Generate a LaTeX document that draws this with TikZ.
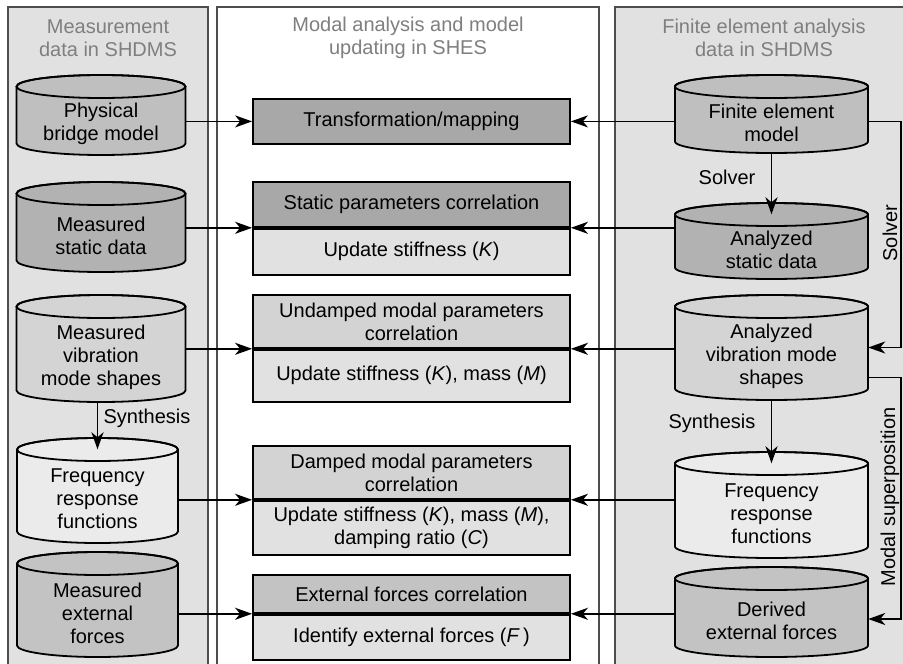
\documentclass[tikz,border=0pt]{standalone}
\usepackage{fontspec}
\setmainfont{Liberation Sans}
\usetikzlibrary{arrows.meta,calc}

\definecolor{panelgray}{HTML}{E1E1E1}
\definecolor{panelline}{HTML}{4D4D4D}
\definecolor{titlegray}{HTML}{7F7F7F}
\definecolor{boxdark}{HTML}{A8A8A8}
\definecolor{boxmid}{HTML}{C3C3C3}
\definecolor{boxsoft}{HTML}{D3D3D3}
\definecolor{boxlight}{HTML}{E1E1E1}
\definecolor{cylA}{HTML}{BFBFBF}
\definecolor{cylB}{HTML}{B2B2B2}
\definecolor{cylC}{HTML}{D4D4D4}
\definecolor{cylD}{HTML}{EBEBEB}
\definecolor{cylE}{HTML}{C3C3C3}

% half height of the cylinder end ellipses
\newcommand\cylry{11.5}

% database cylinder: name, centre x, top y, bottom y, half width, fill, text
\newcommand\dbcyl[7]{%
  \filldraw[cylline, fill=#6] ({#2-#5},{#3+\cylry}) -- ({#2-#5},{#4-\cylry})
    arc[start angle=180, end angle=0, x radius=#5, y radius=\cylry]
    -- ({#2+#5},{#3+\cylry})
    arc[start angle=0, end angle=-180, x radius=#5, y radius=\cylry] -- cycle;
  \draw[cylline] ({#2},{#3+\cylry}) ellipse[x radius=#5, y radius=\cylry];
  \node[inner sep=0pt, minimum width={2*#5*1pt}, minimum height={(#4-#3)*1pt}]
    (#1) at ({#2},{(#3+#4)/2}) {};
  \node[align=center] at ({#2},{(#3+1.5*\cylry+#4)/2}) {#7};
}

\begin{document}
\begin{tikzpicture}[x=1pt, y=-1pt,
  every node/.style={font=\fontsize{20}{23}\selectfont},
  panel/.style={draw=panelline, line width=2pt},
  title/.style={align=center, text=titlegray},
  cylline/.style={draw=black, line width=1.8pt},
  boxst/.style={draw=black, line width=1.8pt, minimum width=317pt,
    inner sep=0pt, align=center, anchor=north},
  arr/.style={draw=black, line width=1.8pt,
    -{Stealth[length=17pt, width=12pt, inset=5pt]}},
  lnk/.style={draw=black, line width=1.8pt}]

\useasboundingbox (0,0) rectangle (903,664);

% the three panels
\draw[panel, fill=panelgray] (8,7) rectangle (208,675);
\draw[panel, fill=white] (217,7) rectangle (599,675);
\draw[panel, fill=panelgray] (615,7) rectangle (915,675);

\node[title] (tl) at (108,38) {Measurement\\data in SHDMS};
\node[title] (tm) at (408,38) {Modal analysis and model\\updating in SHES};
\node[title] (tr) at (764,38) {Finite element analysis\\data in SHDMS};

% measurement data
\dbcyl{m1}{101}{75}{155}{84.5}{cylA}{Physical\\bridge model}
\dbcyl{m2}{101}{182}{272}{84.5}{cylB}{Measured\\static data}
\dbcyl{m3}{101}{295}{402}{84.5}{cylC}{Measured\\vibration\\mode shapes}
\dbcyl{m4}{97.5}{438}{543}{80.5}{cylD}{Frequency\\response\\functions}
\dbcyl{m5}{97.5}{552}{657}{80.5}{cylE}{Measured\\external\\forces}

% finite element data
\dbcyl{r1}{771.5}{75}{153}{96.5}{cylA}{Finite element\\model}
\dbcyl{r2}{771.5}{203}{279}{96.5}{cylB}{Analyzed\\static data}
\dbcyl{r3}{771.5}{295}{400}{96.5}{cylC}{Analyzed\\vibration mode\\shapes}
\dbcyl{r4}{771.5}{452}{558}{96.5}{cylD}{Frequency\\response\\functions}
\dbcyl{r5}{771.5}{567}{657}{96.5}{cylE}{Derived\\external forces}

% correlation and updating steps
\node[boxst, fill=boxdark, minimum height=45pt] (b1) at (411.5,98) {Transformation/mapping};

\node[boxst, fill=boxdark, minimum height=45pt] (b2t) at (411.5,181) {Static parameters correlation};
\node[boxst, fill=boxlight, minimum height=46pt] (b2b) at (b2t.south) {Update stiffness (\textit{K})};

\node[boxst, fill=boxsoft, minimum height=53pt] (b3t) at (411.5,294) {Undamped modal parameters\\correlation};
\node[boxst, fill=boxlight, minimum height=52pt] (b3b) at (b3t.south) {Update stiffness (\textit{K}), mass (\textit{M})};

\node[boxst, fill=boxsoft, minimum height=53pt] (b4t) at (411.5,445) {Damped modal parameters\\correlation};
\node[boxst, fill=boxlight, minimum height=54pt] (b4b) at (b4t.south) {Update stiffness (\textit{K}), mass (\textit{M}),\\damping ratio (\textit{C})};

\node[boxst, fill=boxmid, minimum height=38pt] (b5t) at (411.5,574) {External forces correlation};
\node[boxst, fill=boxlight, minimum height=45pt] (b5b) at (b5t.south) {Identify external forces (\textit{F}\,)};

% measured data into the steps
\draw[arr] (m1.east |- b1.west) -- (b1.west);
\draw[arr] (m2.east |- b2t.south west) -- (b2t.south west);
\draw[arr] (m3.east |- b3t.south west) -- (b3t.south west);
\draw[arr] (m4.east |- b4t.south west) -- (b4t.south west);
\draw[arr] (m5.east |- b5t.south west) -- (b5t.south west);

% analysed data into the steps
\draw[arr] (r1.west |- b1.east) -- (b1.east);
\draw[arr] (r2.west |- b2t.south east) -- (b2t.south east);
\draw[arr] (r3.west |- b3t.south east) -- (b3t.south east);
\draw[arr] (r4.west |- b4t.south east) -- (b4t.south east);
\draw[arr] (r5.west |- b5t.south east) -- (b5t.south east);

% synthesis on the measurement side
\draw[arr] (m3.south -| m4.north) -- ([yshift=-\cylry pt]m4.north);
\node (synl) at (147,418) {Synthesis};

% solver and synthesis on the finite element side
\draw[arr] (r1.south) -- ([yshift=-\cylry pt]r2.north);
\node (solvl) at (727,177) {Solver};
\draw[arr] (r3.south) -- ([yshift=-\cylry pt]r4.north);
\node (synr) at (712,423) {Synthesis};

% right-hand rail: solver and modal superposition
\coordinate (rail) at (901,0);
\draw[arr] (r1.east |- b1.east) -- (rail |- b1.east) -- (rail |- r3.east) -- (r3.east);
\node[rotate=90] (solvv) at (890,233) {Solver};
\coordinate (ms1) at ([yshift=-30pt]r3.east);
\coordinate (ms2) at ([yshift=-7pt]r5.east);
\draw[arr] (ms1) -- (rail |- ms1) -- (rail |- ms2) -- (ms2);
\node[rotate=90] (modv) at (890,497) {Modal superposition};

\end{tikzpicture}
\end{document}
